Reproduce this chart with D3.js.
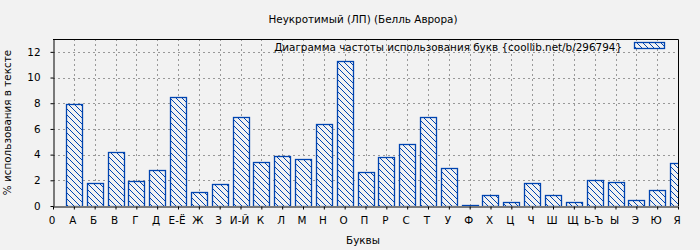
<!DOCTYPE html>
<html>
<head>
<meta charset="utf-8">
<script src="https://cdn.jsdelivr.net/npm/d3@7.9.0/dist/d3.min.js"></script>
<style>
  body { margin: 0; background: #f2f2f2; }
  svg { display: block; font-family: "DejaVu Sans", sans-serif; }
</style>
</head>
<body>
<svg id="chart" width="700" height="250"></svg>
<script>
// Letters (position 0 is the empty "0" tick)
const letters = ["0", "А", "Б", "В", "Г", "Д", "Е-Ё", "Ж", "З", "И-Й", "К", "Л", "М", "Н", "О", "П",
  "Р", "С", "Т", "У", "Ф", "Х", "Ц", "Ч", "Ш", "Щ", "Ь-Ъ", "Ы", "Э", "Ю", "Я"];
// Frequency (%) for А..Я
const freq = [7.95, 1.77, 4.19, 1.95, 2.79, 8.49, 1.07, 1.69, 6.93, 3.41, 3.88, 3.65, 6.38, 11.3,
  2.63, 3.8, 4.82, 6.93, 2.94, 0.08, 0.83, 0.29, 1.77, 0.83, 0.29, 2.0, 1.85, 0.45, 1.23, 3.34];
const yTicks = [0, 2, 4, 6, 8, 10, 12];

const title = "Неукротимый (ЛП) (Белль Аврора)";
const legendText = "Диаграмма частоты использования букв {coollib.net/b/296794}";

const margin = { top: 39, right: 22, bottom: 44, left: 53 };
const width = 700, height = 250;
const blue = "#0044b0";
const fs = 10.4;

const svg = d3.select("#chart");

// Scales
const x = d3.scaleLinear().domain([0, letters.length - 1]).range([margin.left, width - margin.right]);
const y = d3.scaleLinear().domain([0, 13]).range([height - margin.bottom, margin.top]);
const barW = 16;

// Hatch pattern
const defs = svg.append("defs");
const pat = defs.append("pattern")
  .attr("id", "hatch")
  .attr("patternUnits", "userSpaceOnUse")
  .attr("width", 6).attr("height", 6);
pat.append("rect").attr("width", 6).attr("height", 6).attr("fill", "#f2f2f2");
pat.append("path")
  .attr("d", "M-1,-1 L7,7 M-4,2 L2,8 M4,-2 L8,2")
  .attr("stroke", blue).attr("stroke-width", 1);

defs.append("clipPath").attr("id", "plotClip")
  .append("rect")
  .attr("x", margin.left).attr("y", margin.top)
  .attr("width", width - margin.left - margin.right)
  .attr("height", height - margin.top - margin.bottom);

// Grid
const grid = svg.append("g")
  .attr("stroke", "#999").attr("stroke-dasharray", "2,3").attr("stroke-width", 1);
yTicks.slice(1).forEach(t => {
  grid.append("line")
    .attr("x1", margin.left).attr("x2", width - margin.right)
    .attr("y1", Math.round(y(t)) + 0.5).attr("y2", Math.round(y(t)) + 0.5);
});
d3.range(1, letters.length - 1).forEach(i => {
  grid.append("line")
    .attr("x1", Math.round(x(i)) + 0.5).attr("x2", Math.round(x(i)) + 0.5)
    .attr("y1", margin.top).attr("y2", height - margin.bottom);
});

// Bars
svg.append("g").attr("clip-path", "url(#plotClip)")
  .selectAll("rect")
  .data(freq)
  .join("rect")
  .attr("x", (d, i) => Math.round(x(i + 1) - barW / 2) + 0.5)
  .attr("y", d => Math.round(y(d)) + 0.5)
  .attr("width", barW)
  .attr("height", d => Math.round(y(0)) - Math.round(y(d)))
  .attr("fill", "url(#hatch)")
  .attr("stroke", blue)
  .attr("stroke-width", 1.3);

// Axes
const xAxis = d3.axisBottom(x)
  .tickValues(d3.range(letters.length))
  .tickFormat(i => letters[i])
  .tickSize(3).tickSizeOuter(0);
const gx = svg.append("g")
  .attr("transform", `translate(0,${Math.round(y(0)) + 0.5})`)
  .call(xAxis);
gx.select(".domain").attr("stroke", "#000");
gx.selectAll("text").attr("font-size", fs).attr("fill", "#000")
  .attr("font-family", "DejaVu Sans").attr("dy", "1.15em").attr("x", -1.5);

const yAxis = d3.axisLeft(y).tickValues(yTicks).tickSize(3).tickSizeOuter(0);
const gy = svg.append("g")
  .attr("transform", `translate(${Math.round(margin.left) + 0.5},0)`)
  .call(yAxis);
gy.selectAll("text").attr("font-size", fs).attr("fill", "#000")
  .attr("font-family", "DejaVu Sans").attr("x", -13);

// Frame top and right
svg.append("path")
  .attr("d", `M${margin.left},${margin.top + 0.5} H${width - margin.right + 0.5} V${height - margin.bottom}`)
  .attr("fill", "none").attr("stroke", "#000").attr("stroke-width", 1);

// Title and labels
svg.append("text")
  .attr("x", 363).attr("y", 23)
  .attr("text-anchor", "middle").attr("font-size", fs)
  .text(title);

svg.append("text")
  .attr("x", 363).attr("y", 244)
  .attr("text-anchor", "middle").attr("font-size", fs)
  .text("Буквы");

svg.append("text")
  .attr("transform", `translate(11,${(margin.top + height - margin.bottom) / 2}) rotate(-90)`)
  .attr("text-anchor", "middle").attr("font-size", fs)
  .text("% использования в тексте");

// Legend
svg.append("text")
  .attr("x", 622).attr("y", 51)
  .attr("text-anchor", "end").attr("font-size", fs)
  .text(legendText);
svg.append("rect")
  .attr("x", 634.5).attr("y", 42.5).attr("width", 30).attr("height", 6)
  .attr("fill", "url(#hatch)").attr("stroke", blue).attr("stroke-width", 1.3);
</script>
</body>
</html>
